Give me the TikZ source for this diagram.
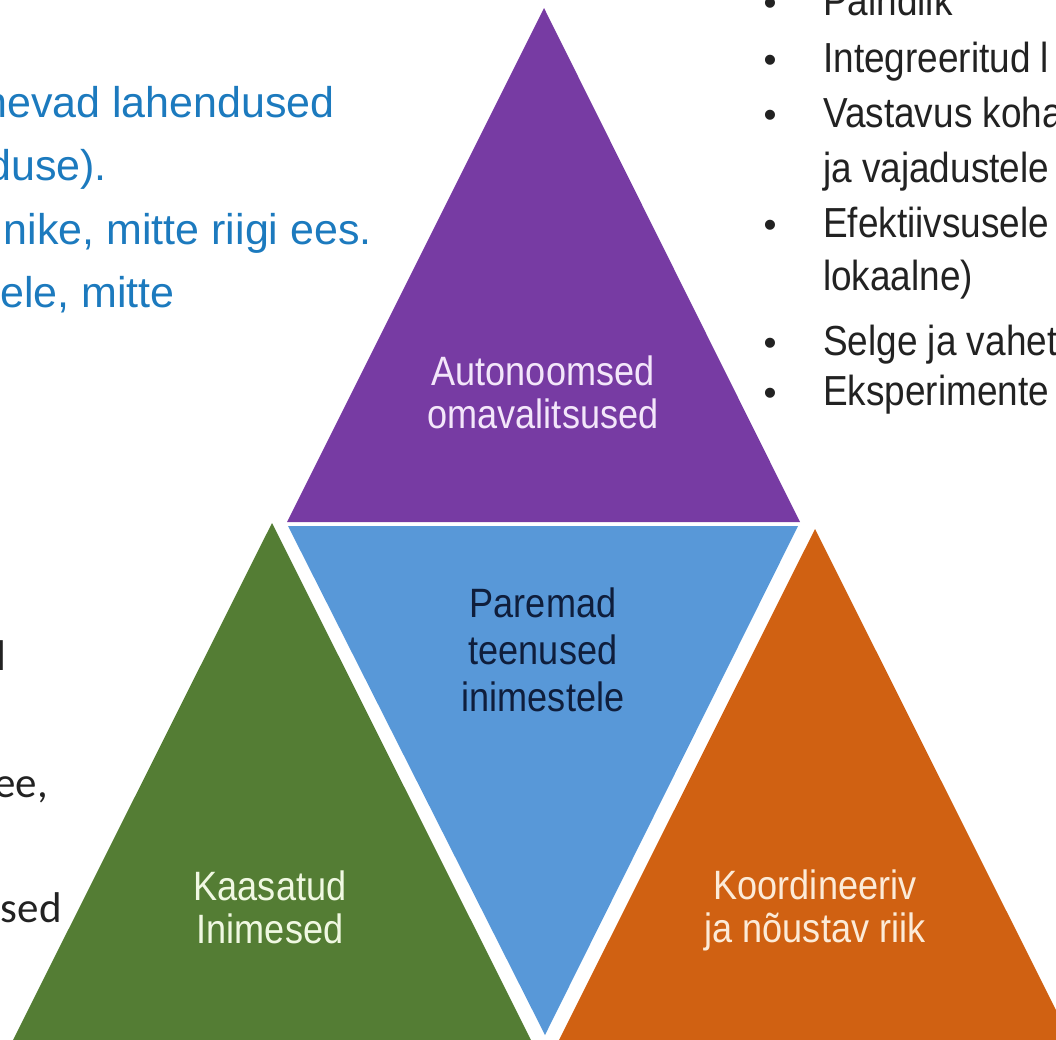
\documentclass[tikz,border=0pt]{standalone}
\usepackage{fontspec}
\setmainfont{Liberation Sans}
\newfontfamily\kitsas[FakeStretch=0.88]{Liberation Sans}
\newfontfamily\calfont{Carlito}
\definecolor{lila}{RGB}{119,59,163}
\definecolor{sinine}{RGB}{88,152,216}
\definecolor{roheline}{RGB}{84,125,52}
\definecolor{oranz}{RGB}{208,97,18}
\definecolor{tekstsinine}{RGB}{28,122,190}
\definecolor{tekstmust}{RGB}{34,34,34}
\begin{document}
\begin{tikzpicture}[x=1pt,y=-1pt,
		silt/.style={font=\kitsas\fontsize{41}{43}\selectfont, align=center},
		loend/.style={anchor=base west, inner sep=0pt, text=tekstmust, font=\kitsas\fontsize{42}{44}\selectfont},
		tapp/.style={anchor=base, inner sep=0pt, text=tekstmust, font=\fontsize{37}{44}\selectfont},
		vasak/.style={anchor=base east, inner sep=0pt, text=tekstsinine, font=\fontsize{43}{50}\selectfont},
		vasakmust/.style={anchor=base east, inner sep=0pt, text=tekstmust, font=\calfont\fontsize{43}{50}\selectfont}]
		\useasboundingbox (0,0) rectangle (1056,1039);
		\clip (0,0) rectangle (1056,1039);
		% Kolmnurgad
		\fill[lila] (544,8) -- (287,522) -- (800,522) -- cycle;
		\fill[sinine] (288,526) -- (798,526) -- (545,1035) -- cycle;
		\fill[roheline] (272,523) -- (8,1050) -- (536,1050) -- cycle;
		\fill[oranz] (815,529) -- (554,1050) -- (1076,1050) -- cycle;
		% Sildid
		\node[silt, text={rgb,255:red,243;green,230;blue,250}] (omavalitsus) at (543,392) {Autonoomsed\\omavalitsused};
		\node[silt, text={rgb,255:red,15;green,30;blue,60}, font=\kitsas\fontsize{41}{47}\selectfont] (teenused) at (543,650) {Paremad\\teenused\\inimestele};
		\node[silt, text={rgb,255:red,240;green,248;blue,226}] (inimesed) at (270,907) {Kaasatud\\Inimesed};
		\node[silt, text={rgb,255:red,252;green,235;blue,216}] (riik) at (815,910) {Koordineeriv\\ja nõustav riik};
		% Vasak tekst (sinine)
		\node[vasak] (v1) at (335,117) {nevad lahendused};
		\node[vasak] (v2) at (107,180) {duse).};
		\node[vasak] (v3) at (372,244) {nike, mitte riigi ees.};
		\node[vasak] (v4) at (175,307) {ele, mitte};
		% Vasak tekst (must)
		\node[vasakmust] (m1) at (7,670) {l};
		\node[vasakmust] (m2) at (48,797) {ee,};
		\node[vasakmust] (m3) at (62,922) {sed};
		% Parem loend
		\node[tapp] (p1) at (770,15) {\textbullet};
		\node[loend] (t1) at (823,15) {Paindlik};
		\node[tapp] (p2) at (770,72) {\textbullet};
		\node[loend] (t2) at (823,72) {Integreeritud l};
		\node[tapp] (p3) at (770,127) {\textbullet};
		\node[loend] (t3) at (823,127) {Vastavus koha};
		\node[loend] (t4) at (823,182) {ja vajadustele};
		\node[tapp] (p5) at (770,237) {\textbullet};
		\node[loend] (t5) at (823,237) {Efektiivsusele};
		\node[loend] (t6) at (823,290) {lokaalne)};
		\node[tapp] (p7) at (770,355) {\textbullet};
		\node[loend] (t7) at (823,355) {Selge ja vahet};
		\node[tapp] (p8) at (770,405) {\textbullet};
		\node[loend] (t8) at (823,405) {Eksperimente};
	\end{tikzpicture}
\end{document}
